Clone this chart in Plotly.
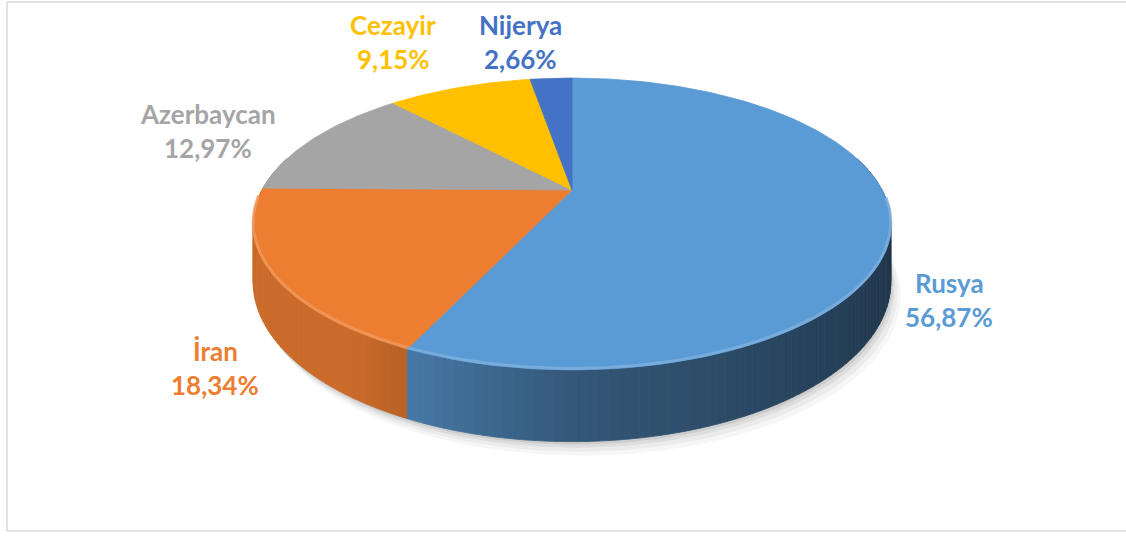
import numpy as np
import plotly.graph_objects as go

# ---------------- data ----------------
categories = ["Rusya", "İran", "Azerbaycan", "Cezayir", "Nijerya"]
shares = [56.87, 18.34, 12.97, 9.15, 2.66]
colors = ["#5B9BD5", "#ED7D31", "#A5A5A5", "#FFC000", "#4472C4"]

# label anchor positions (pixel units of the drawing canvas)
label_pos = {
    "Rusya": (949, 300),
    "İran": (215, 368),
    "Azerbaycan": (208, 131),
    "Cezayir": (393, 42),
    "Nijerya": (520, 42),
}

# ---------------- geometry of the 3-D pie ----------------
W, H = 1126, 536
CX, CY = 572, 190      # apex of the pie (projected centre)
A, B = 310, 138        # horizontal / depth radii
P = 0.233              # perspective strength
D = 55                 # thickness


def proj(theta):
    u = np.sin(theta)
    v = -np.cos(theta)
    s = 1.0 / (1.0 - P * v)
    return CX + A * u * s, CY + B * v * s, s, u, v


def hex_rgb(h):
    h = h.lstrip("#")
    return tuple(int(h[i:i + 2], 16) for i in (0, 2, 4))


def shade(h, f):
    r, g, b = hex_rgb(h)
    return "rgb(%d,%d,%d)" % (min(255, r * f), min(255, g * f), min(255, b * f))


def tint(h, t):
    r, g, b = hex_rgb(h)
    return "rgb(%d,%d,%d)" % (r + (255 - r) * t, g + (255 - g) * t, b + (255 - b) * t)


def light(u):
    if u < 0:
        return min(0.86, 0.57 - 0.5 * u)
    return 0.57 - 0.22 * u


total = sum(shares)
bounds = np.concatenate([[0], np.cumsum(shares)]) / total * 2 * np.pi

fig = go.Figure()

# soft shadow under the pie
full = np.linspace(0, 2 * np.pi, 241)
fx, fy, fs, _, _ = proj(full)
for dx, dy, a in [(10, 14, 0.035), (7, 10, 0.045), (4, 6, 0.06), (2, 3, 0.07)]:
    fig.add_trace(go.Scatter(x=fx + dx, y=fy + D * fs + dy, mode="lines", fill="toself",
                             fillcolor="rgba(0,0,0,%g)" % a, line=dict(width=0),
                             hoverinfo="skip", showlegend=False))

# side walls (front part), drawn back to front
quads = []
for i, c in enumerate(colors):
    t0, t1 = bounds[i], bounds[i + 1]
    n = max(2, int(np.ceil((t1 - t0) / np.radians(1.5))))
    ts = np.linspace(t0, t1, n + 1)
    for a0, a1 in zip(ts[:-1], ts[1:]):
        vmid = -np.cos((a0 + a1) / 2)
        if vmid < -0.25:
            continue
        quads.append((vmid, a0, a1, c))
quads.sort(key=lambda q: q[0])
for vmid, a0, a1, c in quads:
    x0, y0, s0, u0, _ = proj(a0)
    x1, y1, s1, u1, _ = proj(a1)
    col = shade(c, light((u0 + u1) / 2))
    fig.add_trace(go.Scatter(x=[x0, x1, x1, x0, x0], y=[y0, y1, y1 + D * s1, y0 + D * s0, y0],
                             mode="lines", fill="toself", fillcolor=col,
                             line=dict(width=0.8, color=col),
                             hoverinfo="skip", showlegend=False))

# top faces
for i, c in enumerate(colors):
    t0, t1 = bounds[i], bounds[i + 1]
    n = max(4, int(np.ceil((t1 - t0) / np.radians(1))))
    ts = np.linspace(t0, t1, n + 1)
    ax_, ay_, _, _, _ = proj(ts)
    xs = np.concatenate([[CX], ax_, [CX]])
    ys = np.concatenate([[CY], ay_, [CY]])
    fig.add_trace(go.Scatter(x=xs, y=ys, mode="lines", fill="toself", fillcolor=c,
                             line=dict(width=0.8, color=c),
                             hoverinfo="skip", showlegend=False))

# light bevel along the front rim of the top face
for i, c in enumerate(colors):
    t0, t1 = bounds[i], bounds[i + 1]
    ts = np.linspace(t0, t1, 200)
    xs, ys, ss, us, vs = proj(ts)
    m = vs > 0.05
    if m.sum() < 2:
        continue
    fig.add_trace(go.Scatter(x=xs[m], y=ys[m] - 1.5, mode="lines",
                             line=dict(width=3, color=tint(c, 0.22)), opacity=0.8,
                             hoverinfo="skip", showlegend=False))

# labels
for name, val, c in zip(categories, shares, colors):
    lx, ly = label_pos[name]
    pct = ("%.2f" % val).replace(".", ",") + "%"
    for txt, dy in ((name, -17), (pct, 17)):
        fig.add_annotation(x=lx, y=ly + dy, text=txt, showarrow=False,
                           xanchor="center", yanchor="middle",
                           font=dict(family="Lato", size=26, color=c, weight="bold"))

# chart-area border (left, top, bottom visible)
border = dict(color="#D9D9D9", width=1.5)
fig.add_shape(type="line", x0=7, y0=2, x1=W, y1=2, line=border, layer="below")
fig.add_shape(type="line", x0=7, y0=531, x1=W, y1=531, line=border, layer="below")
fig.add_shape(type="line", x0=7, y0=2, x1=7, y1=531, line=border, layer="below")

fig.update_layout(
    width=W, height=H, margin=dict(l=0, r=0, t=0, b=0),
    paper_bgcolor="white", plot_bgcolor="white",
    xaxis=dict(range=[0, W], visible=False, fixedrange=True),
    yaxis=dict(range=[H, 0], visible=False, fixedrange=True),
    showlegend=False,
)

fig.write_html("out.html", config={"displayModeBar": False},
               post_script="document.body.style.margin='0';document.body.style.overflow='hidden';")
